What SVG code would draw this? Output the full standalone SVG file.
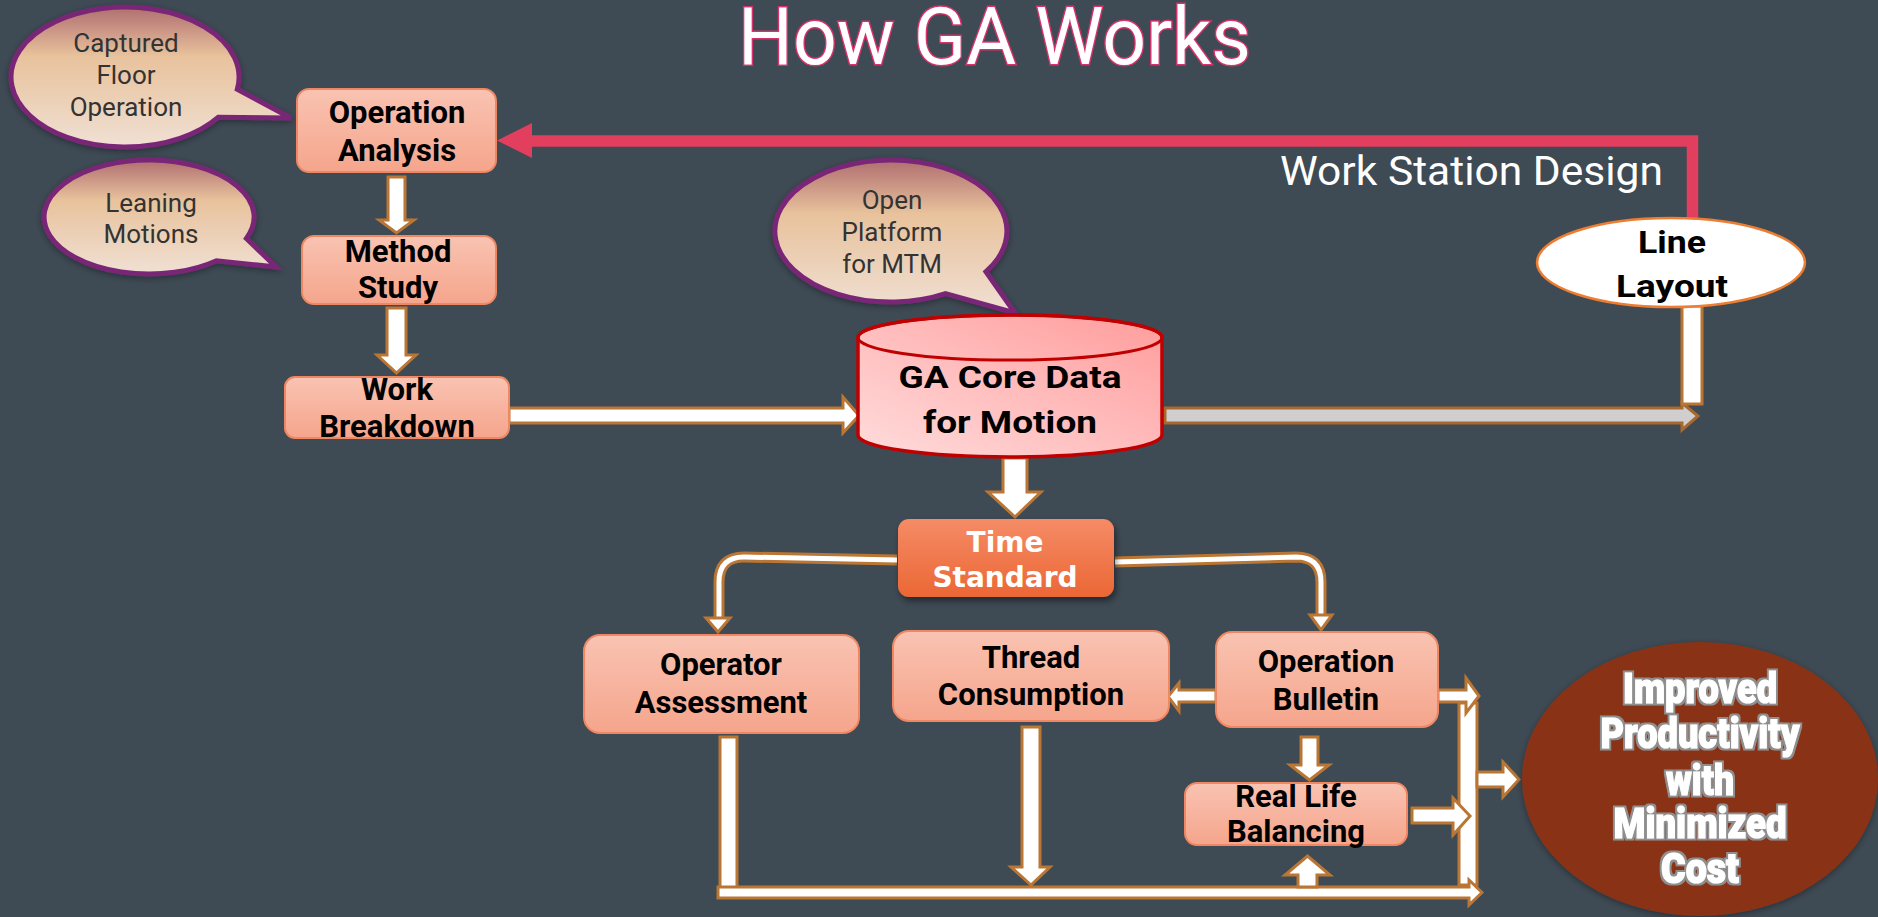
<svg xmlns="http://www.w3.org/2000/svg" width="1878" height="917" viewBox="0 0 1878 917">
<defs>
<linearGradient id="boxGrad" x1="0" y1="0" x2="0" y2="1"><stop offset="0" stop-color="#f9c3b2"/><stop offset="1" stop-color="#f5a58c"/></linearGradient>
<linearGradient id="tsGrad" x1="0" y1="0" x2="0" y2="1"><stop offset="0" stop-color="#f58b66"/><stop offset="1" stop-color="#eb6735"/></linearGradient>
<linearGradient id="bubGrad" x1="0" y1="0" x2="0" y2="1"><stop offset="0" stop-color="#b06e70"/><stop offset="0.35" stop-color="#e8c29c"/><stop offset="1" stop-color="#f0e0d4"/></linearGradient>
<linearGradient id="cylGrad" x1="0" y1="1" x2="1" y2="0"><stop offset="0" stop-color="#ffdcdc"/><stop offset="1" stop-color="#ff9c9c"/></linearGradient>
<filter id="shadow" x="-20%" y="-20%" width="140%" height="150%"><feDropShadow dx="2" dy="4" stdDeviation="3" flood-color="#000" flood-opacity="0.45"/></filter>
<filter id="glow" x="-20%" y="-20%" width="140%" height="140%"><feDropShadow dx="0" dy="2" stdDeviation="3" flood-color="#000" flood-opacity="0.35"/></filter>
<filter id="outline" x="-10%" y="-20%" width="120%" height="140%">
<feMorphology in="SourceAlpha" operator="dilate" radius="1.6" result="d"/>
<feFlood flood-color="#8f8f8f"/>
<feComposite in2="d" operator="in" result="o"/>
<feMerge><feMergeNode in="o"/><feMergeNode in="SourceGraphic"/></feMerge>
</filter>
<style>
.box{fill:url(#boxGrad);stroke:#ef8762;stroke-width:2}
.bt{font-family:Roboto,"Liberation Sans",sans-serif;font-weight:bold;font-size:31px;fill:#000;text-anchor:middle}
.bub{fill:url(#bubGrad);stroke:#7a2777;stroke-width:5;filter:url(#glow)}
.bubt{font-family:Roboto,"Liberation Sans",sans-serif;font-size:26px;fill:#333;text-anchor:middle}
.arr{fill:#fff;stroke:#b97634;stroke-width:3;stroke-linejoin:miter}
.arrg{fill:#d0cece;stroke:#a8692f;stroke-width:3}
.lineO{fill:none;stroke:#b97634;stroke-width:11;stroke-linejoin:round}
.lineI{fill:none;stroke:#fff;stroke-width:5;stroke-linejoin:round}
.big{font-family:Roboto,"Liberation Sans",sans-serif;font-weight:900;font-size:42px;fill:#fff;stroke:#fff;stroke-width:1.2;text-anchor:middle}
</style>
</defs>
<rect width="1878" height="917" fill="#3e4a54"/>

<g id="title">
<text x="738" y="64" font-family="Roboto,'Liberation Sans',sans-serif" font-size="80" fill="#fff" stroke="#d6336c" stroke-width="3" paint-order="stroke" textLength="513" lengthAdjust="spacingAndGlyphs">How GA Works</text>
</g>

<g id="connectors">
<path class="lineO" d="M 897 560 L 744 557 Q 719 557 719 582 L 719 619"/>
<path class="lineI" d="M 897 560 L 744 557 Q 719 557 719 582 L 719 619"/>
<polygon class="arr" stroke-width="2.5" points="706,618 730,618 718,632"/>
<path class="lineO" d="M 1115 562 L 1296 557 Q 1321 557 1321 582 L 1321 616"/>
<path class="lineI" d="M 1115 562 L 1296 557 Q 1321 557 1321 582 L 1321 616"/>
<polygon class="arr" stroke-width="2.5" points="1310,615 1332,615 1321,630"/>

<polygon class="arr" points="388,177 405,177 405,220 414,220 396.5,233 379,220 388,220"/>
<polygon class="arr" points="387,308 406,308 406,355 416,355 396.5,373 377,355 387,355"/>
<polygon class="arr" points="509,408 843,408 843,397 859,415.5 843,433 843,423 509,423"/>
<polygon class="arr" points="1003,458 1027,458 1027,492 1041,492 1015,517 988,492 1003,492"/>
<polygon class="arrg" points="1165,408 1682,408 1682,403 1698,416 1682,430 1682,423 1165,423"/>
<rect class="arr" x="1682" y="306" width="20" height="98"/>
<path d="M 1692.5 218 V 141 H 530" fill="none" stroke="#e23e5e" stroke-width="11.5"/>
<polygon points="532,123 532,158 497,140.5" fill="#e23e5e"/>

<rect class="arr" x="720" y="737" width="17" height="152"/>
<polygon class="arr" points="1022,727 1040,727 1040,867 1050,867 1031,885 1011,867 1022,867"/>
<rect class="arr" x="1459" y="703" width="18" height="182"/>
<polygon class="arr" points="718,887 1469,887 1469,880 1482,892.5 1469,905 1469,898 718,898"/>
<polygon class="arr" points="1216,690 1179,690 1179,683 1168,696.5 1179,711 1179,702 1216,702"/>
<polygon class="arr" points="1301,737 1318,737 1318,765 1329,765 1309.5,780 1290,765 1301,765"/>
<polygon class="arr" points="1298,887 1317,887 1317,875 1330,875 1307.5,856 1285,875 1298,875"/>
<polygon class="arr" points="1438,690 1466,690 1466,678 1479,696 1466,713 1466,702 1438,702"/>
<polygon class="arr" points="1477,772 1503,772 1503,762 1519,779.5 1503,797 1503,787 1477,787"/>
<polygon class="arr" points="1412,808 1453,808 1453,798 1470,816 1453,835 1453,823 1412,823"/>
</g>

<g id="bubble-captured">
<path class="bub" d="M 237.3 89.2 L 291 118 L 218.4 117.2 A 114 70 0 1 1 237.3 89.2 Z"/>
<text class="bubt"><tspan x="126" y="52">Captured</tspan><tspan x="126" y="84">Floor</tspan><tspan x="126" y="116">Operation</tspan></text>
</g>
<g id="bubble-leaning">
<path class="bub" d="M 246.4 238.4 L 276 267 L 216.5 260.7 A 105 57 0 1 1 246.4 238.4 Z"/>
<text class="bubt"><tspan x="151" y="212">Leaning</tspan><tspan x="151" y="243">Motions</tspan></text>
</g>
<g id="bubble-open">
<path class="bub" d="M 986 271.7 L 1015 313 L 945.5 293.7 A 116 71 0 1 1 986 271.7 Z"/>
<text class="bubt"><tspan x="892" y="209">Open</tspan><tspan x="892" y="241">Platform</tspan><tspan x="892" y="273">for MTM</tspan></text>
</g>

<g id="operation-analysis">
<rect class="box" x="297" y="89" width="199" height="83" rx="12"/>
<text class="bt"><tspan x="397" y="123">Operation</tspan><tspan x="397" y="161">Analysis</tspan></text>
</g>
<g id="method-study">
<rect class="box" x="302" y="236" width="194" height="68" rx="12"/>
<text class="bt"><tspan x="398" y="262">Method</tspan><tspan x="398" y="298">Study</tspan></text>
</g>
<g id="work-breakdown">
<rect class="box" x="285" y="377" width="224" height="61" rx="10"/>
<text class="bt"><tspan x="397" y="400">Work</tspan><tspan x="397" y="437">Breakdown</tspan></text>
</g>

<g id="ga-core">
<path d="M 858 337.5 A 152 22.5 0 0 1 1162 337.5 L 1162 435 A 152 22 0 0 1 858 435 Z" fill="url(#cylGrad)" stroke="#c00000" stroke-width="3.5"/>
<ellipse cx="1010" cy="337.5" rx="152" ry="22.5" fill="none" stroke="#c00000" stroke-width="3"/>
<text class="bt" font-size="40" x="1010" y="388" textLength="223" lengthAdjust="spacingAndGlyphs">GA Core Data</text>
<text class="bt" font-size="40" x="1010" y="433" textLength="174" lengthAdjust="spacingAndGlyphs">for Motion</text>
</g>

<g id="line-layout">
<ellipse cx="1671" cy="262.5" rx="134" ry="44.5" fill="#fff" stroke="#ed7d31" stroke-width="2.5"/>
<text class="bt" font-size="38" x="1672" y="253" textLength="68" lengthAdjust="spacingAndGlyphs">Line</text>
<text class="bt" font-size="38" x="1672" y="297" textLength="112" lengthAdjust="spacingAndGlyphs">Layout</text>
</g>

<g id="work-station-design">
<text x="1280" y="185" font-family="Roboto,'Liberation Sans',sans-serif" font-size="40" fill="#fff" textLength="383" lengthAdjust="spacingAndGlyphs">Work Station Design</text>
</g>

<g id="time-standard">
<rect x="898" y="519" width="216" height="78" rx="11" fill="url(#tsGrad)" filter="url(#shadow)"/>
<text font-family="'DejaVu Sans',Verdana,sans-serif" font-weight="bold" font-size="28" fill="#fff" text-anchor="middle"><tspan x="1005" y="552">Time</tspan><tspan x="1005" y="587">Standard</tspan></text>
</g>

<g id="operator-assessment">
<rect class="box" x="584" y="635" width="275" height="98" rx="16"/>
<text class="bt"><tspan x="721" y="675">Operator</tspan><tspan x="721" y="713">Assessment</tspan></text>
</g>
<g id="thread-consumption">
<rect class="box" x="893" y="631" width="276" height="90" rx="16"/>
<text class="bt"><tspan x="1031" y="668">Thread</tspan><tspan x="1031" y="705">Consumption</tspan></text>
</g>
<g id="operation-bulletin">
<rect class="box" x="1216" y="632" width="222" height="95" rx="16"/>
<text class="bt"><tspan x="1326" y="672">Operation</tspan><tspan x="1326" y="710">Bulletin</tspan></text>
</g>
<g id="real-life-balancing">
<rect class="box" x="1185" y="783" width="222" height="62" rx="12"/>
<text class="bt" font-size="28"><tspan x="1296" y="807">Real Life</tspan><tspan x="1296" y="842">Balancing</tspan></text>
</g>

<g id="improved-productivity">
<ellipse cx="1700" cy="779" rx="178" ry="137" fill="#8a3314" filter="url(#glow)"/>
<g filter="url(#outline)">
<text class="big" x="1700" y="703" textLength="154" lengthAdjust="spacingAndGlyphs">Improved</text>
<text class="big" x="1700" y="748" textLength="199" lengthAdjust="spacingAndGlyphs">Productivity</text>
<text class="big" x="1700" y="795" textLength="68" lengthAdjust="spacingAndGlyphs">with</text>
<text class="big" x="1700" y="838" textLength="173" lengthAdjust="spacingAndGlyphs">Minimized</text>
<text class="big" x="1700" y="883" textLength="78" lengthAdjust="spacingAndGlyphs">Cost</text>
</g>
</g>
</svg>
